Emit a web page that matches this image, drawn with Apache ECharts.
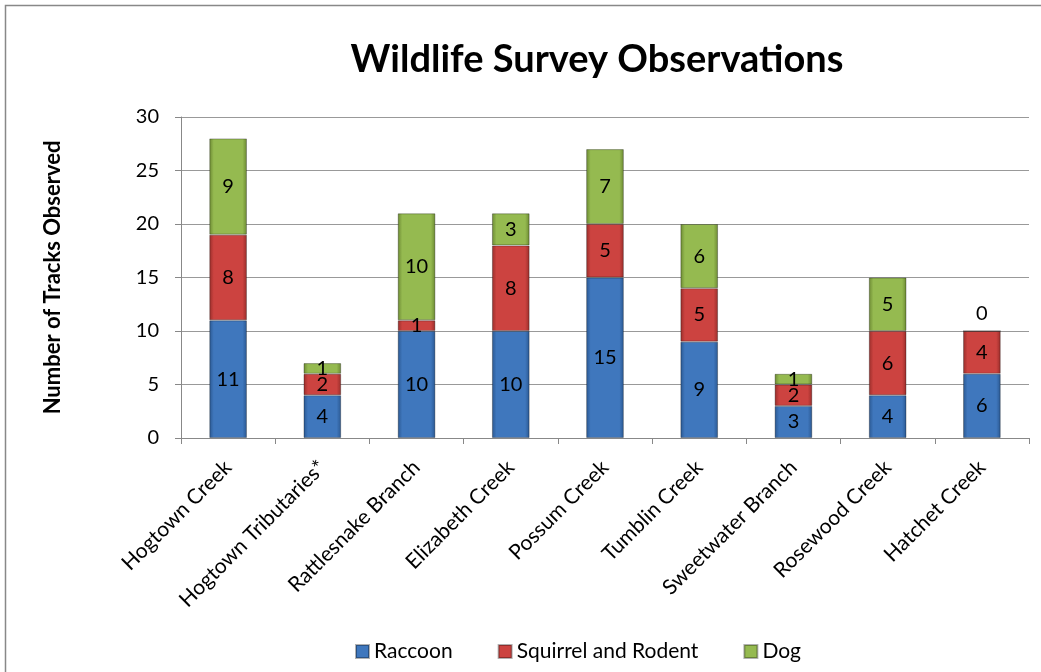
<!DOCTYPE html>
<html><head><meta charset="utf-8">
<script src="https://cdn.jsdelivr.net/npm/echarts@6/dist/echarts.min.js"></script>
<style>html,body{margin:0;padding:0;background:#fff}#c{width:1041px;height:672px}</style>
</head><body><div id="c"></div>
<script>
const categories = ["Hogtown Creek","Hogtown Tributaries*","Rattlesnake Branch","Elizabeth Creek","Possum Creek","Tumblin Creek","Sweetwater Branch","Rosewood Creek","Hatchet Creek"];
const raccoon = [11,4,10,10,15,9,3,4,6];
const squirrel = [8,2,1,8,5,5,2,6,4];
const dog = [9,1,10,3,7,6,1,5,0];
const yTicks = [0,5,10,15,20,25,30];

const FONT = 'Lato, "Open Sans", sans-serif';
function grad(edge, mid){
  return new echarts.graphic.LinearGradient(0,0,1,0,[
    {offset:0,color:edge},{offset:0.12,color:mid},{offset:0.88,color:mid},{offset:1,color:edge}]);
}
const colors = {
  raccoon: grad('#2a5790','#3f77bd'),
  squirrel: grad('#972d2a','#cc4340'),
  dog: grad('#6b8832','#95ba50')
};
const legendColors = ['#3a6eb0','#c03c39','#8db049'];
function mk(name, data, col){
  return {
    name, type:'bar', stack:'a', barWidth:'40%',
    data: data.map(v => (v===0 ? {value:v, label:{position:'top', offset:[0,-2]}} : v)),
    itemStyle:{color:col, borderColor:'rgba(0,0,0,0.3)', borderWidth:1},
    label:{show:true, position:'inside', color:'#000', fontSize:20, fontFamily:FONT},
    emphasis:{disabled:true}
  };
}
const chart = echarts.init(document.getElementById('c'));
chart.setOption({
  animation:false,
  color: legendColors,
  title:{text:'Wildlife Survey Observations', left:'center', top:36, left:592, textAlign:'center',
    textStyle:{fontFamily:FONT, fontSize:38, fontWeight:'bold', color:'#000'}},
  graphic:[{type:'rect', shape:{x:5.5,y:5.5,width:1060,height:700}, style:{fill:'none', stroke:'#888', lineWidth:1.5}, silent:true}],
  legend:{top:636, left:350, itemWidth:13, itemHeight:13, itemGap:45, icon:'rect',
    textStyle:{fontFamily:FONT, fontSize:21, color:'#000', padding:[0,0,0,0]},
    data:['Raccoon','Squirrel and Rodent','Dog']},
  grid:{left:181, right:12, top:117, bottom:234, containLabel:false},
  xAxis:{type:'category', data:categories,
    axisLine:{lineStyle:{color:'#888'}},
    axisTick:{show:true, length:6, lineStyle:{color:'#888'}},
    axisLabel:{rotate:45, fontFamily:FONT, fontSize:21, color:'#000', margin:26, interval:0}},
  yAxis:{type:'value', min:yTicks[0], max:yTicks[yTicks.length-1], interval:5,
    name:'Number of Tracks Observed', nameLocation:'middle', nameGap:117,
    nameTextStyle:{fontFamily:FONT, fontSize:22, fontWeight:'bold', color:'#000'},
    axisLine:{show:true, lineStyle:{color:'#888'}},
    axisTick:{show:true, length:6, lineStyle:{color:'#888'}},
    splitLine:{lineStyle:{color:'#999', width:1}},
    axisLabel:{fontFamily:FONT, fontSize:20, color:'#000', margin:22}},
  series:[
    mk('Raccoon', raccoon, colors.raccoon),
    mk('Squirrel and Rodent', squirrel, colors.squirrel),
    mk('Dog', dog, colors.dog)
  ]
});
</script></body></html>
